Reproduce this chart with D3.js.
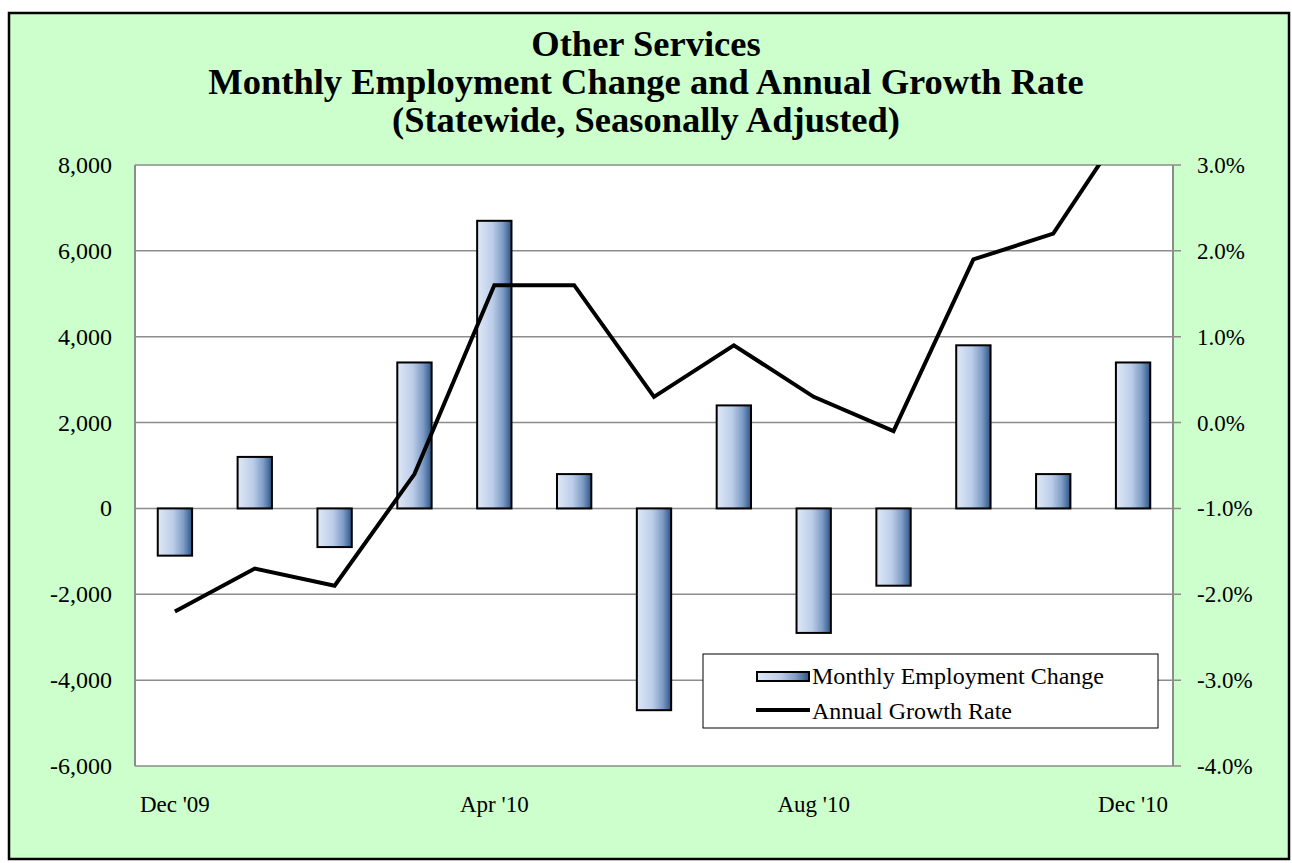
<!DOCTYPE html>
<html>
<head>
<meta charset="utf-8">
<script src="https://cdnjs.cloudflare.com/ajax/libs/d3/7.8.4/d3.min.js"></script>
<style>
  body { margin: 0; background: #fff; }
  svg text { font-family: "Liberation Serif", "DejaVu Serif", serif; }
</style>
</head>
<body>
<div id="chart"></div>
<script>
// Données
const months = ["Dec '09", "Jan '10", "Feb '10", "Mar '10", "Apr '10", "May '10", "Jun '10",
  "Jul '10", "Aug '10", "Sep '10", "Oct '10", "Nov '10", "Dec '10"];
const monthlyChange = [-1100, 1200, -900, 3400, 6700, 800, -4700, 2400, -2900, -1800, 3800, 800, 3400];
const annualGrowth = [-2.2, -1.7, -1.9, -0.6, 1.6, 1.6, 0.3, 0.9, 0.3, -0.1, 1.9, 2.2, 3.6];
const leftTicks = [-6000, -4000, -2000, 0, 2000, 4000, 6000, 8000];
const rightTicks = [-4, -3, -2, -1, 0, 1, 2, 3];
const xLabels = ["Dec '09", "Apr '10", "Aug '10", "Dec '10"];
const titleLines = ["Other Services", "Monthly Employment Change and Annual Growth Rate",
  "(Statewide, Seasonally Adjusted)"];

const W = 1292, H = 863;
const plot = { left: 135, top: 165, right: 1173, bottom: 766 };
const serif = "Liberation Serif, DejaVu Serif, serif";

const svg = d3.select("#chart").append("svg")
  .attr("width", W).attr("height", H)
  .attr("font-family", serif);

// Fond vert et cadre
svg.append("rect")
  .attr("x", 9).attr("y", 13).attr("width", 1280).attr("height", 846)
  .attr("fill", "#ccffcc").attr("stroke", "#000").attr("stroke-width", 2.5);

// Titre
svg.append("g").selectAll("text").data(titleLines).join("text")
  .attr("x", 646).attr("y", (d, i) => 56 + i * 38)
  .attr("text-anchor", "middle")
  .attr("font-family", serif)
  .attr("font-size", "36.5px").attr("font-weight", "bold")
  .text(d => d);

// Echelles
const x = d3.scaleBand().domain(months).range([plot.left, plot.right]).paddingInner(0.57).paddingOuter(0.285);
const yL = d3.scaleLinear().domain([-6000, 8000]).range([plot.bottom, plot.top]);
const yR = d3.scaleLinear().domain([-4, 3]).range([plot.bottom, plot.top]);

// Zone de tracé
svg.append("rect")
  .attr("x", plot.left).attr("y", plot.top)
  .attr("width", plot.right - plot.left).attr("height", plot.bottom - plot.top)
  .attr("fill", "#fff");

// Grille
svg.append("g").selectAll("line").data(leftTicks).join("line")
  .attr("x1", plot.left).attr("x2", plot.right + 8)
  .attr("y1", d => yL(d)).attr("y2", d => yL(d))
  .attr("stroke", "#8c8c8c").attr("stroke-width", 1.5);

// Bordures gauche et droite
svg.append("line").attr("x1", plot.left).attr("x2", plot.left)
  .attr("y1", plot.top).attr("y2", plot.bottom)
  .attr("stroke", "#8c8c8c").attr("stroke-width", 2);
svg.append("line").attr("x1", plot.right).attr("x2", plot.right)
  .attr("y1", plot.top).attr("y2", plot.bottom)
  .attr("stroke", "#8c8c8c").attr("stroke-width", 2);

// Dégradé des barres
const defs = svg.append("defs");
const grad = defs.append("linearGradient").attr("id", "barGrad")
  .attr("x1", "0%").attr("x2", "100%").attr("y1", "0%").attr("y2", "0%");
grad.append("stop").attr("offset", "0%").attr("stop-color", "#dfe8f6");
grad.append("stop").attr("offset", "45%").attr("stop-color", "#bccde9");
grad.append("stop").attr("offset", "75%").attr("stop-color", "#7d9cc6");
grad.append("stop").attr("offset", "100%").attr("stop-color", "#2c5486");

defs.append("clipPath").attr("id", "plotClip").append("rect")
  .attr("x", plot.left).attr("y", plot.top)
  .attr("width", plot.right - plot.left).attr("height", plot.bottom - plot.top);

// Barres
svg.append("g").selectAll("rect").data(months).join("rect")
  .attr("x", d => x(d))
  .attr("width", x.bandwidth())
  .attr("y", (d, i) => yL(Math.max(0, monthlyChange[i])))
  .attr("height", (d, i) => Math.abs(yL(monthlyChange[i]) - yL(0)))
  .attr("fill", "url(#barGrad)")
  .attr("stroke", "#000").attr("stroke-width", 2);

// Courbe du taux de croissance
const line = d3.line()
  .x((d, i) => x(months[i]) + x.bandwidth() / 2)
  .y(d => yR(d));
svg.append("path").datum(annualGrowth)
  .attr("clip-path", "url(#plotClip)")
  .attr("fill", "none").attr("stroke", "#000").attr("stroke-width", 4)
  .attr("stroke-linejoin", "miter")
  .attr("d", line);

// Axes
const fmtL = d => d3.format(",")(d).replace("\u2212", "-");
const fmtR = d => d3.format(".1f")(d).replace("\u2212", "-") + "%";

svg.append("g").selectAll("text").data(leftTicks).join("text")
  .attr("x", 112).attr("y", d => yL(d) + 8)
  .attr("text-anchor", "end").attr("font-size", "24px")
  .text(fmtL);

svg.append("g").selectAll("text").data(rightTicks).join("text")
  .attr("x", 1197).attr("y", d => yR(d) + 8)
  .attr("text-anchor", "start").attr("font-size", "23px")
  .text(fmtR);

svg.append("g").selectAll("text").data(xLabels).join("text")
  .attr("x", d => x(d) + x.bandwidth() / 2).attr("y", 812)
  .attr("text-anchor", "middle").attr("font-size", "23px")
  .text(d => d);

// Légende
const legend = svg.append("g").attr("transform", "translate(703,654)");
legend.append("rect").attr("width", 455).attr("height", 74)
  .attr("fill", "#fff").attr("stroke", "#000").attr("stroke-width", 1);
legend.append("rect").attr("x", 54).attr("y", 18).attr("width", 52).attr("height", 9)
  .attr("fill", "url(#barGrad)").attr("stroke", "#000").attr("stroke-width", 2);
legend.append("text").attr("x", 109).attr("y", 30).attr("font-size", "24px")
  .text("Monthly Employment Change");
legend.append("line").attr("x1", 53).attr("x2", 107).attr("y1", 56).attr("y2", 56)
  .attr("stroke", "#000").attr("stroke-width", 4);
legend.append("text").attr("x", 109).attr("y", 65).attr("font-size", "24px")
  .text("Annual Growth Rate");
</script>
</body>
</html>
